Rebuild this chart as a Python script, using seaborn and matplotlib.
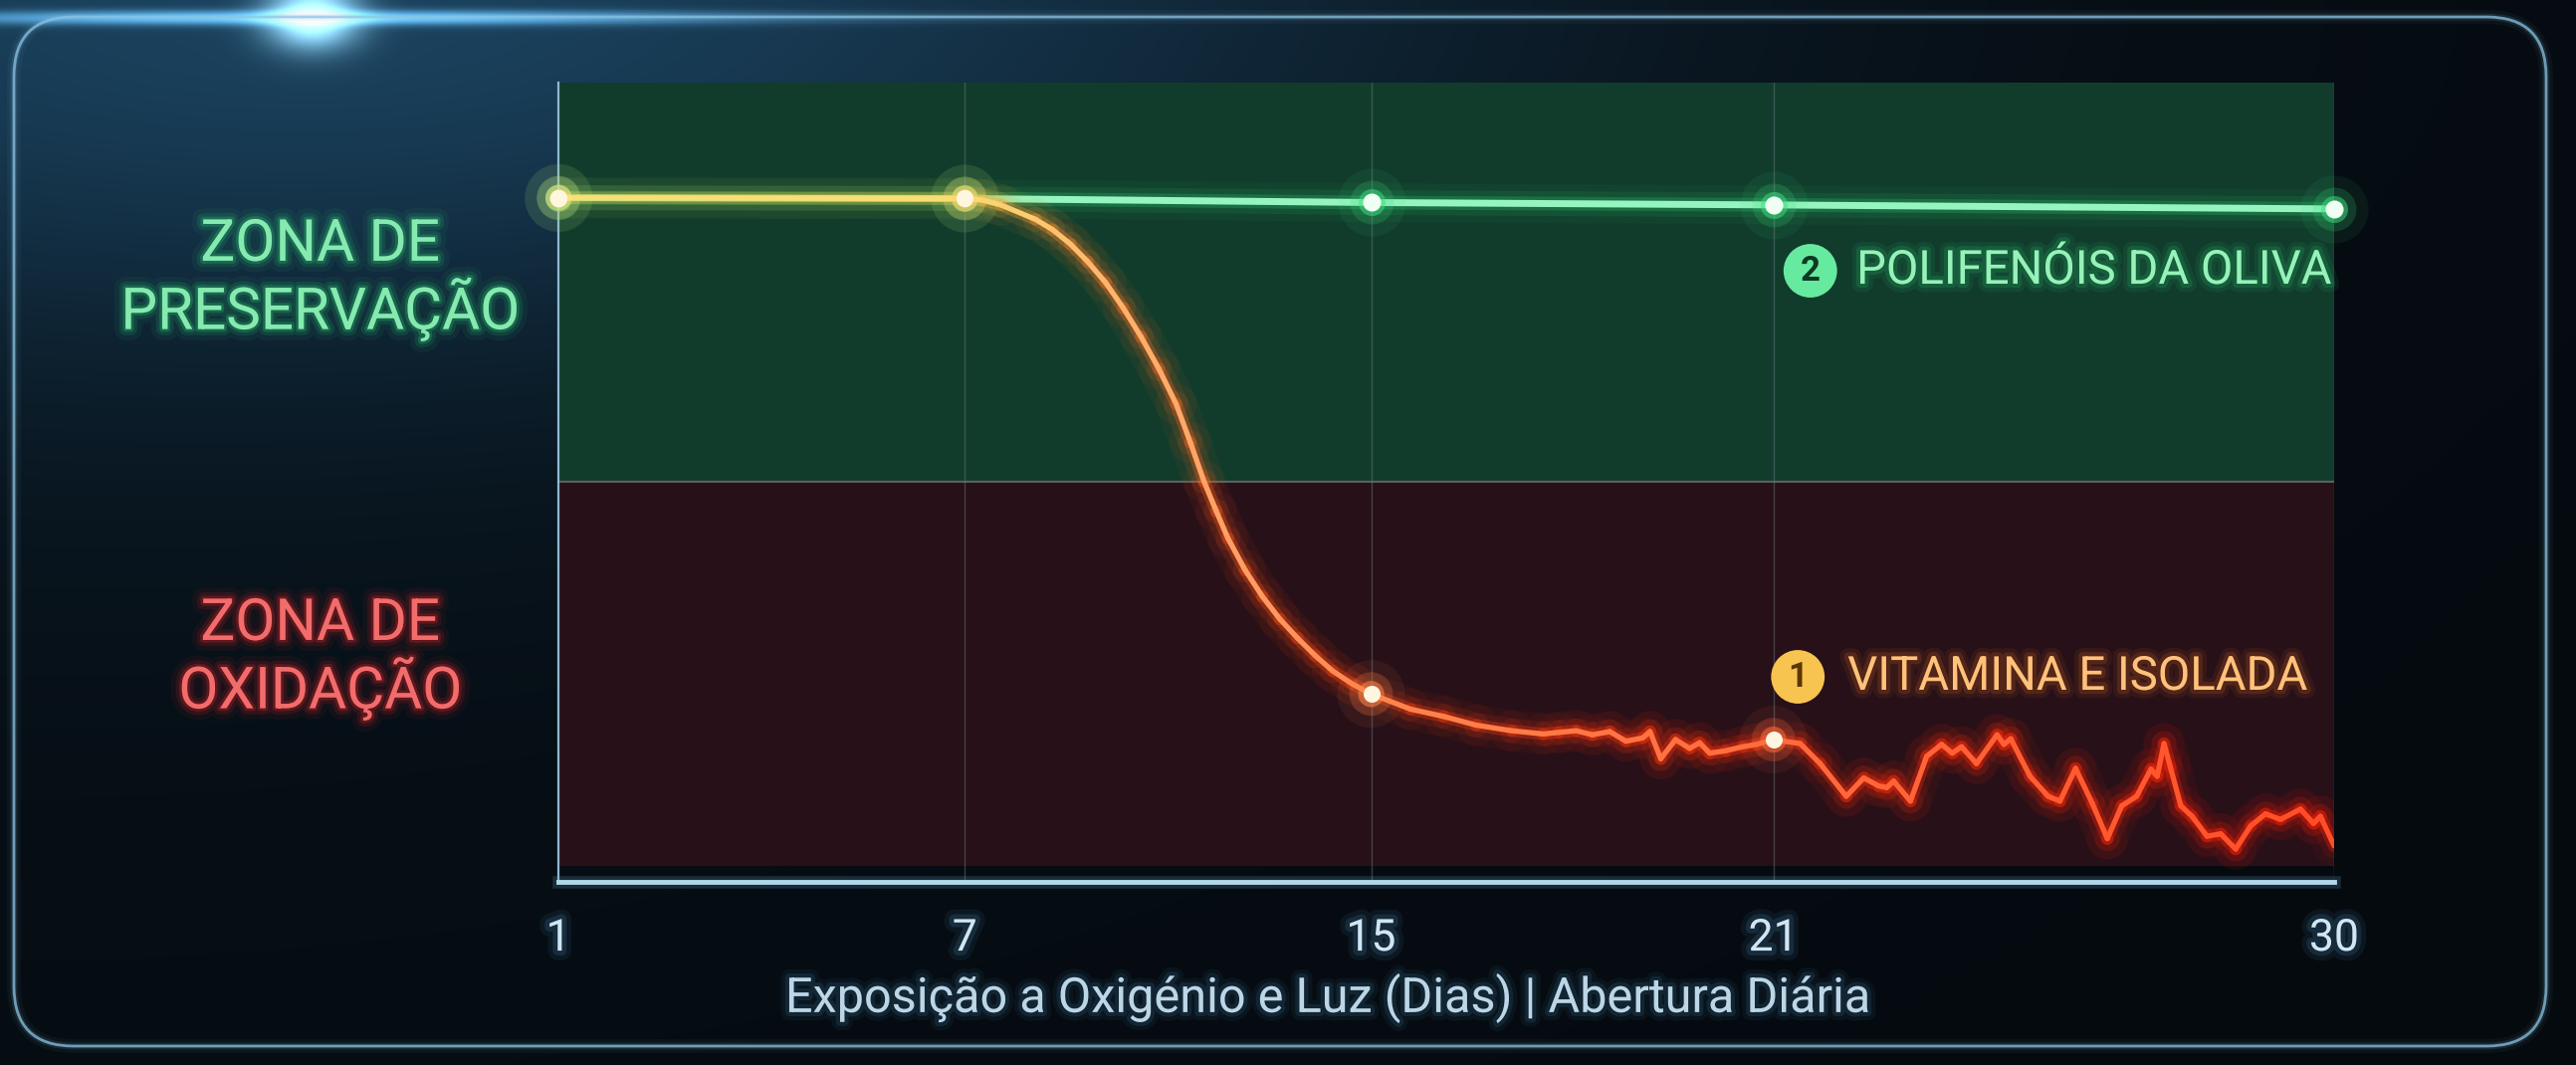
import numpy as np
import pandas as pd
import matplotlib
matplotlib.use('Agg')
import matplotlib.pyplot as plt
import seaborn as sns
import matplotlib.patheffects as pe
from matplotlib.collections import LineCollection
from matplotlib.patches import FancyBboxPatch

sns.set_theme(style='dark')
plt.rcParams['font.family'] = ['Roboto', 'DejaVu Sans']

# --- dados ---
tick_days = [1, 7, 15, 21, 30]
tick_labels = ['1', '7', '15', '21', '30']
tick_pos = [0, 1, 2, 2.99, 4.37]   # o eixo do original não é linear

poli_days = [1, 7, 15, 21, 30]
poli_vals = [85.6, 85.5, 85.0, 84.7, 84.2]

vit_days = [1, 7, 7.35, 7.71, 8.39, 8.73, 9.08, 9.42, 9.77, 10.12, 10.47, 10.82,
            11.16, 11.44, 11.71, 11.95, 12.18, 12.52, 12.86, 13.2, 13.55, 13.9,
            14.24, 14.62, 15.0, 15.59, 16.08, 16.57, 17.1, 17.57, 17.8, 18.06,
            18.3, 18.56, 18.8, 19.05, 19.16, 19.32, 19.54, 19.75, 19.9, 20.05,
            20.29, 20.54, 20.75, 21.0, 21.43, 21.75, 22.17, 22.45, 22.69, 22.82,
            22.93, 23.2, 23.46, 23.7, 23.87, 24.02, 24.26, 24.59, 24.7, 24.81,
            25.12, 25.41, 25.6, 25.85, 26.12, 26.36, 26.59, 26.83, 27.06, 27.16,
            27.27, 27.37, 27.54, 27.72, 27.96, 28.18, 28.42, 28.66, 28.9, 29.14,
            29.46, 29.67, 29.78, 30.0]
vit_vals = [85.6, 85.5, 85.3, 84.7, 82.9, 81.6, 79.8, 77.6, 75.0, 71.8, 68.2, 64.2,
            59.8, 55.0, 50.1, 46.4, 43.0, 39.0, 35.7, 32.9, 30.5, 28.3,
            26.4, 24.8, 23.5, 21.6, 20.7, 19.6, 18.9, 18.5, 18.7, 18.9,
            18.4, 18.8, 17.6, 18.0, 18.8, 15.4, 17.8, 16.7, 17.4, 16.1,
            16.4, 16.9, 17.2, 17.8, 17.3, 14.8, 10.7, 13.0, 12.0, 11.8,
            12.6, 10.1, 15.7, 17.2, 16.1, 16.9, 14.8, 18.4, 17.2, 17.9,
            13.2, 10.7, 10.1, 14.2, 9.8, 5.4, 9.5, 10.7, 14.1, 13.2,
            17.3, 14.4, 9.5, 8.2, 5.7, 6.0, 4.1, 7.0, 8.5, 7.8,
            9.1, 7.3, 8.2, 4.5]
vit_marker_days = [1, 7, 15, 21]
vit_marker_vals = [85.6, 85.5, 23.5, 17.8]

zona_limite = 50
poli_label = 'POLIFENÓIS DA OLIVA'
vit_label = 'VITAMINA E ISOLADA'
xlabel = 'Exposição a Oxigénio e Luz (Dias) | Abertura Diária'

df_poli = pd.DataFrame({'dia': poli_days, 'valor': poli_vals})
df_vit = pd.DataFrame({'dia': vit_days, 'valor': vit_vals})

W, H = 2588, 1070
fig = plt.figure(figsize=(W / 100, H / 100), dpi=100)
fig.patch.set_facecolor('#050b12')

# fundo com brilho azul no canto superior esquerdo
bg = fig.add_axes([0, 0, 1, 1], zorder=0)
yy, xx = np.mgrid[0:H:2, 0:W:2].astype(float)
w1 = np.exp(-(((xx - 350) / 1100) ** 2 + (yy / 330) ** 2))
w2 = np.exp(-((xx / 1500) ** 2 + (yy / 800) ** 2))
flare = np.exp(-(((xx - 313) / 45) ** 2 + ((yy - 17) / 30) ** 2))
streak = np.exp(-(((xx - 313) / 420) ** 2 + ((yy - 17) / 7) ** 2))
base = np.array([0.02, 0.04, 0.06])
img = (base + w1[..., None] * np.array([0.07, 0.17, 0.24])
       + w2[..., None] * np.array([0.015, 0.05, 0.07])
       + flare[..., None] * np.array([0.75, 0.95, 1.0])
       + streak[..., None] * np.array([0.35, 0.6, 0.75]))
bg.imshow(np.clip(img, 0, 1), extent=(0, W, H, 0), aspect='auto', interpolation='bilinear')
bg.set_xlim(0, W)
bg.set_ylim(H, 0)
bg.axis('off')
for lw, a in [(10, 0.05), (5, 0.12), (2, 0.75)]:
    bg.add_patch(FancyBboxPatch((14, 17), 2544, 1034, boxstyle='round,pad=0,rounding_size=60',
                                fc='none', ec='#8cc4e4', lw=lw, alpha=a))

# eixo principal
ax = fig.add_axes([0.2168, 0.1720, 0.6893, 0.7504], zorder=2)
ax.patch.set_alpha(0)


def fwd(d):
    return np.interp(d, tick_days, tick_pos)


def inv(p):
    return np.interp(p, tick_pos, tick_days)


ax.set_xscale('function', functions=(fwd, inv))
ax.set_xlim(1, 30)
ax.set_ylim(0, 100)

ax.axhspan(zona_limite, 100, color='#113c2c', lw=0, zorder=0)
ax.axhspan(2, zona_limite, color='#271018', lw=0, zorder=0)
ax.axhline(zona_limite, color='#737a7c', lw=1.5, alpha=0.7, zorder=1)
for d in tick_days[1:]:
    ax.axvline(d, color='#6c7c82', lw=1, alpha=0.45, zorder=1)

# polifenóis (verde)
for lw, a in [(28, 0.05), (18, 0.1), (10, 0.25)]:
    sns.lineplot(data=df_poli, x='dia', y='valor', ax=ax, color='#2fd070', lw=lw, alpha=a, zorder=3)
sns.lineplot(data=df_poli, x='dia', y='valor', ax=ax, color='#96f4c0', lw=5, zorder=4)
for s, a in [(2400, 0.07), (1000, 0.18), (380, 0.5)]:
    sns.scatterplot(data=df_poli, x='dia', y='valor', ax=ax, color='#3ee080', s=s, alpha=a,
                    lw=0, zorder=5, clip_on=False)
sns.scatterplot(data=df_poli, x='dia', y='valor', ax=ax, color='#f0fff4', s=170, lw=0, zorder=6,
                clip_on=False)

# vitamina E (amarelo -> laranja -> vermelho)
anc_d = [1, 7, 10, 13, 15, 21, 30]
anc_c = np.array([[0.97, 0.88, 0.45], [0.98, 0.86, 0.45], [1.0, 0.7, 0.42],
                  [1.0, 0.6, 0.38], [1.0, 0.52, 0.3], [1.0, 0.42, 0.24], [1.0, 0.3, 0.15]])
glow_c = np.array([[0.95, 0.8, 0.25], [0.98, 0.7, 0.2], [1.0, 0.45, 0.15],
                   [1.0, 0.3, 0.08], [1.0, 0.25, 0.06], [1.0, 0.18, 0.04], [1.0, 0.12, 0.03]])
pts = np.column_stack([vit_days, vit_vals])
segs = np.stack([pts[:-1], pts[1:]], axis=1)
mid = (pts[:-1, 0] + pts[1:, 0]) / 2
core = np.column_stack([np.interp(mid, anc_d, anc_c[:, i]) for i in range(3)])
glow = np.column_stack([np.interp(mid, anc_d, glow_c[:, i]) for i in range(3)])
for lw, a in [(30, 0.05), (18, 0.1), (9, 0.3)]:
    ax.add_collection(LineCollection(segs, colors=glow, lw=lw, alpha=a, capstyle='round',
                                     joinstyle='round', zorder=7))
ax.add_collection(LineCollection(segs, colors=core, lw=3.8, capstyle='round',
                                 joinstyle='round', zorder=8))
df_vm = pd.DataFrame({'dia': vit_marker_days, 'valor': vit_marker_vals})
mcol = ['#ffe680', '#ffd870', '#ff8a50', '#ff7040']
for s, a in [(2400, 0.08), (1000, 0.2), (360, 0.5)]:
    sns.scatterplot(data=df_vm, x='dia', y='valor', ax=ax, hue='dia', palette=mcol, s=s,
                    alpha=a, lw=0, zorder=9, legend=False, clip_on=False)
sns.scatterplot(data=df_vm, x='dia', y='valor', ax=ax, color='#fff6e0', s=150, lw=0,
                zorder=10, legend=False, clip_on=False)

# eixos
sns.despine(ax=ax, top=True, right=True)
ax.spines['left'].set_color('#8fb8d0')
ax.spines['left'].set_linewidth(1.6)
ax.spines['bottom'].set_color('#b4d6ea')
ax.spines['bottom'].set_linewidth(3.5)
ax.spines['bottom'].set_path_effects([pe.Stroke(linewidth=9, foreground='#6aaed8', alpha=0.2),
                                      pe.Normal()])
ax.grid(False)
ax.set_yticks([])
ax.set_xticks(tick_days)
ax.set_xticklabels(tick_labels)
ax.tick_params(axis='x', length=0, pad=26, labelsize=32, labelcolor='#d2e6f2')
ax.set_xlabel('')
ax.set_ylabel('')


def glow_fx(color, widths=(16, 9, 4), alphas=(0.06, 0.12, 0.22)):
    fx = [pe.Stroke(linewidth=w, foreground=color, alpha=a) for w, a in zip(widths, alphas)]
    return fx + [pe.Normal()]


for lab in ax.get_xticklabels():
    lab.set_path_effects(glow_fx('#5aa8e0', (14, 7), (0.08, 0.15)))

fig.text(1334 / W, 1 - 1003 / H, xlabel, ha='center', va='center', fontsize=35,
         color='#bcd6e6', path_effects=glow_fx('#5aa8e0', (12, 6), (0.06, 0.12)), zorder=5)

fig.text(322 / W, 1 - 281 / H, 'ZONA DE\nPRESERVAÇÃO', ha='center', va='center',
         fontsize=42, color='#86eab0', linespacing=1.1, path_effects=glow_fx('#2ee07a'),
         zorder=5)
fig.text(322 / W, 1 - 662 / H, 'ZONA DE\nOXIDAÇÃO', ha='center', va='center',
         fontsize=42, color='#f26c6c', linespacing=1.1, path_effects=glow_fx('#ff2a2a'),
         zorder=5)

# rótulos das séries
ax.text(0.705, 0.7646, '2', transform=ax.transAxes, ha='center', va='center', fontsize=25,
        fontweight='bold', color='#0c3a22', zorder=12,
        bbox=dict(boxstyle='circle,pad=0.3', fc='#66eaa0', ec='none'))
ax.text(0.731, 0.7646, poli_label, transform=ax.transAxes, ha='left', va='center',
        fontsize=34, color='#96f2b8', path_effects=glow_fx('#2ee07a', (12, 6), (0.08, 0.15)),
        zorder=12)
ax.text(0.698, 0.2565, '1', transform=ax.transAxes, ha='center', va='center', fontsize=25,
        fontweight='bold', color='#5a3800', zorder=12,
        bbox=dict(boxstyle='circle,pad=0.3', fc='#f8c450', ec='none'))
ax.text(0.726, 0.2565, vit_label, transform=ax.transAxes, ha='left', va='center',
        fontsize=34, color='#ffc27a', path_effects=glow_fx('#ff7a20', (12, 6), (0.08, 0.15)),
        zorder=12)

fig.savefig('out.png', dpi=100, facecolor=fig.get_facecolor())
